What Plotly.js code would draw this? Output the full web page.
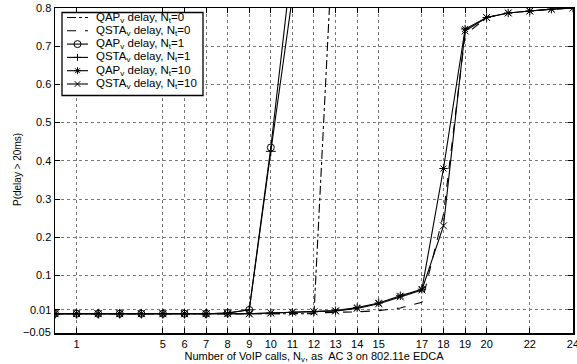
<!DOCTYPE html>
<html><head><meta charset="utf-8">
<script src="https://cdn.plot.ly/plotly-3.0.1.min.js"></script>
<style>html,body{margin:0;padding:0;background:#fff}
#lbl{position:absolute;left:0;top:0;font-family:'Liberation Sans',Arial,sans-serif;font-size:11px;color:#000;pointer-events:none}</style>
</head><body>
<div style="position:relative;width:577px;height:364px">
<div id="chart" style="width:577px;height:364px"></div>
<div id="lbl"></div>
</div>
<script>
var calls = [0,1,2,3,4,5,6,7,8,9,10,11,12,13,14,15,16,17,18,19,20,21,22,23,24];
var qapNt0  = [0,0,0,0,0,0,0,0,0,0,0,0,0,1.12];
var qstaNt0 = [0,0,0,0,0,0,0,0,0,0,0,0,0.002,0.003,0.005,0.008,0.015,0.03,0.26,0.73,0.775,0.787,0.792,0.797,0.8];
var qapNt1  = [0,0,0,0,0,0,0,0,0.002,0.01,0.435,0.93];
var qstaNt1 = [0,0,0,0,0,0,0,0,0.002,0.01,0.425,0.83];
var qapNt10 = [0,0,0,0,0,0,0,0,0,0,0.002,0.004,0.005,0.008,0.016,0.028,0.047,0.064,0.38,0.745,0.775,0.787,0.792,0.797,0.8];
var qstaNt10= [0,0,0,0,0,0,0,0,0,0,0.002,0.004,0.005,0.007,0.014,0.026,0.044,0.062,0.23,0.74,0.775,0.787,0.792,0.797,0.8];

var xTicks = [1,5,6,7,8,9,10,11,12,13,14,15,17,18,19,20,22,24];
var yTicks = [-0.05,0.01,0.1,0.2,0.3,0.4,0.5,0.6,0.7,0.8];
var yTickText = ['\u22120.05','0.01','0.1','0.2','0.3','0.4','0.5','0.6','0.7','0.8'];

var names = ['QAP<sub>v</sub> delay, N<sub>t</sub>=0','QSTA<sub>v</sub> delay, N<sub>t</sub>=0',
  'QAP<sub>v</sub> delay, N<sub>t</sub>=1','QSTA<sub>v</sub> delay, N<sub>t</sub>=1',
  'QAP<sub>v</sub> delay, N<sub>t</sub>=10','QSTA<sub>v</sub> delay, N<sub>t</sub>=10'];
var dashes = ['dashdot','dash','solid','solid','solid','solid'];
var symbols = [null, null, 'circle-open','cross-thin-open','asterisk-open','x-thin-open'];
var series = [qapNt0, qstaNt0, qapNt1, qstaNt1, qapNt10, qstaNt10];

var data = series.map(function(y, i){
  var t = {x: calls.slice(0, y.length), y: y, name: names[i], type:'scatter',
    mode: symbols[i] ? 'lines+markers' : 'lines', showlegend:false,
    line:{color:'#000', width:1.1, dash:dashes[i]}};
  if (symbols[i]) t.marker = {symbol: symbols[i], size: 7, color:'#000', line:{color:'#000', width:1}};
  return t;
});

// ---- custom legend (layout geometry) ----
var W = 577, H = 364, M = {l:55, r:4, t:8, b:31};
var PW = W - M.l - M.r, PH = H - M.t - M.b;
function px(x){ return (x - M.l) / PW; }
function py(y){ return 1 - (y - M.t) / PH; }
var shapes = [], annotations = [];
shapes.push({type:'rect', xref:'paper', yref:'paper', x0:px(62), x1:px(203), y0:py(12.5), y1:py(95.5),
  line:{color:'#000', width:1.3}, fillcolor:'#fff', layer:'above'});
function seg(cx, cy, dx0, dy0, dx1, dy1){
  shapes.push({type:'line', xref:'paper', yref:'paper', xsizemode:'pixel', ysizemode:'pixel',
    xanchor:px(cx), yanchor:py(cy), x0:dx0, y0:dy0, x1:dx1, y1:dy1,
    line:{color:'#000', width:1}, layer:'above'});
}
for (var i = 0; i < names.length; i++) {
  var cy = 17.5 + i * 13.3;
  shapes.push({type:'line', xref:'paper', yref:'paper', x0:px(67), x1:px(88), y0:py(cy), y1:py(cy),
    line:{color:'#000', width:1.1, dash:dashes[i]}, layer:'above'});
  var cx = 77.5, r = 3.5;
  if (symbols[i] === 'circle-open') {
    shapes.push({type:'circle', xref:'paper', yref:'paper', xsizemode:'pixel', ysizemode:'pixel',
      xanchor:px(cx), yanchor:py(cy), x0:-r, x1:r, y0:-r, y1:r, line:{color:'#000', width:1},
      fillcolor:'rgba(0,0,0,0)', layer:'above'});
  } else if (symbols[i] === 'cross-thin-open') {
    seg(cx, cy, -r, 0, r, 0); seg(cx, cy, 0, -r, 0, r);
  } else if (symbols[i] === 'asterisk-open') {
    seg(cx, cy, -r, 0, r, 0); seg(cx, cy, 0, -r, 0, r);
    seg(cx, cy, -r*0.7, -r*0.7, r*0.7, r*0.7); seg(cx, cy, -r*0.7, r*0.7, r*0.7, -r*0.7);
  } else if (symbols[i] === 'x-thin-open') {
    seg(cx, cy, -r*0.8, -r*0.8, r*0.8, r*0.8); seg(cx, cy, -r*0.8, r*0.8, r*0.8, -r*0.8);
  }
  annotations.push({xref:'paper', yref:'paper', x:px(94), y:py(cy), xanchor:'left', yanchor:'middle',
    text:names[i], showarrow:false, font:{size:11.5, color:'#000'}});
}
// y-axis title placed like the reference
annotations.push({xref:'paper', yref:'paper', x:px(17), y:py(170), xanchor:'center', yanchor:'middle',
  text:'P(delay > 20ms)', textangle:-90, showarrow:false, font:{size:10, color:'#000'}});

var axisCommon = {showline:true, linecolor:'#000', linewidth:1.5, mirror:'ticks',
  ticks:'inside', ticklen:5, tickcolor:'#000', zeroline:false, ticklabeloverflow:'allow',
  showgrid:true, gridcolor:'#777', griddash:'dot', gridwidth:1,
  tickfont:{family:'Liberation Sans, Arial, sans-serif', size:11, color:'#000'}};
var layout = {
  width:W, height:H, margin:M,
  paper_bgcolor:'#fff', plot_bgcolor:'#fff',
  font:{family:'Liberation Sans, Arial, sans-serif', color:'#000'},
  xaxis: Object.assign({}, axisCommon, {range:[0,24.001], tickmode:'array', tickvals:xTicks,
    ticktext: xTicks.map(String),
    title:{text:'Number of VoIP calls, N<sub>v</sub>, as  AC 3 on 802.11e EDCA', font:{size:11}, standoff:0}}),
  yaxis: Object.assign({}, axisCommon, {range:[-0.0505,0.8], tickmode:'array', tickvals:yTicks,
    ticktext:[''].concat(yTickText.slice(1))}),
  showlegend:false,
  shapes: shapes, annotations: annotations
};
Plotly.newPlot('chart', data, layout, {displayModeBar:false, staticPlot:true});
// bottom y tick label as an HTML overlay, positioned from the y axis scale
(function(){
  var gd = document.getElementById('chart');
  var ya = gd._fullLayout.yaxis, xa = gd._fullLayout.xaxis;
  var lbl = document.getElementById('lbl');
  lbl.textContent = yTickText[0];
  var yPix = ya._offset + ya.l2p(yTicks[0]);
  lbl.style.top = (yPix - 7) + 'px';
  lbl.style.left = (xa._offset - 4 - lbl.offsetWidth) + 'px';
})();
</script>
</body></html>
